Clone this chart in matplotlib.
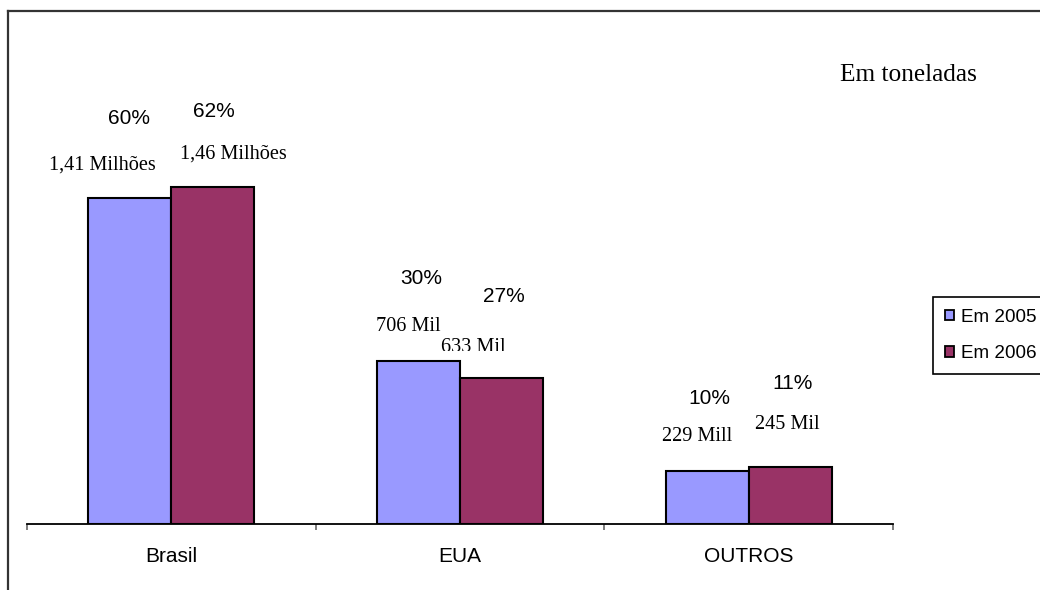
import matplotlib
matplotlib.use("Agg")
import matplotlib.pyplot as plt
from matplotlib.lines import Line2D
from matplotlib.patches import Patch
from matplotlib.transforms import Bbox, TransformedBbox, offset_copy

# ---- data (thousand tonnes) ----
categories = ["Brasil", "EUA", "OUTROS"]
series_names = ["Em 2005", "Em 2006"]
values_2005 = [1410, 706, 229]
values_2006 = [1460, 633, 245]
share_2005 = ["60%", "30%", "10%"]
share_2006 = ["62%", "27%", "11%"]
amount_2005 = ["1,41 Milhões", "706 Mil", "229 Mill"]
amount_2006 = ["1,46 Milhões", "633 Mil", "245 Mil"]
unit_note = "Em toneladas"

colors = ["#9999FF", "#993366"]

W, H = 1040, 590
fig = plt.figure(figsize=(W / 100, H / 100), dpi=100)
fig.patch.set_facecolor("white")


def fx(px):
    return px / W


def fy(py):
    return 1 - py / H


# outer frame (left and top edges visible)
fig.add_artist(Line2D([fx(8), fx(8)], [fy(11), fy(600)], color="#333333", lw=1.6))
fig.add_artist(Line2D([fx(8), fx(1045)], [fy(11), fy(11)], color="#333333", lw=1.6))

# plot area
ax_left, ax_right, ax_bottom, ax_top = 27, 893, 524, 39
ax = fig.add_axes([fx(ax_left), fy(ax_bottom), fx(ax_right - ax_left), (ax_bottom - ax_top) / H])
ax.set_xlim(-0.5, len(categories) - 0.5)
ax.set_ylim(0, 2100)
ax.patch.set_alpha(0)

bar_w = 0.2875
x = list(range(len(categories)))
x05 = [i - bar_w / 2 for i in x]
x06 = [i + bar_w / 2 for i in x]
ax.bar(x05, values_2005, width=bar_w, color=colors[0], edgecolor="black", linewidth=1.5, label=series_names[0])
ax.bar(x06, values_2006, width=bar_w, color=colors[1], edgecolor="black", linewidth=1.5, label=series_names[1])

for s in ["left", "right", "top"]:
    ax.spines[s].set_visible(False)
ax.spines["bottom"].set_linewidth(1.3)
ax.yaxis.set_visible(False)

# boundary ticks between categories, names centred under each group
ax.set_xticks([i - 0.5 for i in range(len(categories) + 1)])
ax.set_xticklabels([])
ax.tick_params(axis="x", which="major", direction="out", length=4.5, width=1.2, color="#666666")
ax.set_xticks(x, minor=True)
ax.set_xticklabels(categories, minor=True, fontsize=15, family="Liberation Sans")
ax.tick_params(axis="x", which="minor", length=0, pad=16.5)

# label offsets in pixels (dx, dy above bar top)
share_off_05 = [(-1, 80), (3, 82), (2, 73)]
share_off_06 = [(1, 75), (2, 81), (2, 84)]
amount_off_05 = [(-27, 33), (-10, 34), (-10, 35)]
amount_off_06 = [(21, 33), (-28, 30), (-3, 43)]


def put(xv, yv, dx, dy, text, family, size):
    tr = offset_copy(ax.transData, fig=fig, x=dx, y=dy, units="dots")
    return ax.text(xv, yv, text, transform=tr, ha="center", va="center",
                   fontsize=size, family=family, color="black")


for i in range(len(categories)):
    put(x05[i], values_2005[i], *share_off_05[i], share_2005[i], "Liberation Sans", 15)
    put(x06[i], values_2006[i], *share_off_06[i], share_2006[i], "Liberation Sans", 15)
    put(x05[i], values_2005[i], *amount_off_05[i], amount_2005[i], "Liberation Serif", 14.6)
    t = put(x06[i], values_2006[i], *amount_off_06[i], amount_2006[i], "Liberation Serif", 14.6)
    if i == 1:
        # this label is partly covered at its lower edge
        t.set_clip_box(TransformedBbox(Bbox([[0, fy(351)], [1, 1]]), fig.transFigure))
        t.set_clip_on(True)

fig.text(fx(840), fy(75), unit_note, fontsize=18.3, family="Liberation Serif", ha="left", va="center")

handles = [Patch(facecolor=colors[0], edgecolor="black", linewidth=1.3),
           Patch(facecolor=colors[1], edgecolor="black", linewidth=1.3)]
leg = fig.legend(handles, series_names, loc="upper left", bbox_to_anchor=(fx(933), fy(297)),
                 bbox_transform=fig.transFigure, borderaxespad=0, fancybox=False, framealpha=1,
                 edgecolor="black", prop={"family": "Liberation Sans", "size": 13.6},
                 handlelength=0.5, handleheight=0.5, handletextpad=0.35, labelspacing=1.02,
                 borderpad=0.62)
leg.get_frame().set_linewidth(1.2)

fig.savefig("out.png", dpi=100, facecolor="white")
